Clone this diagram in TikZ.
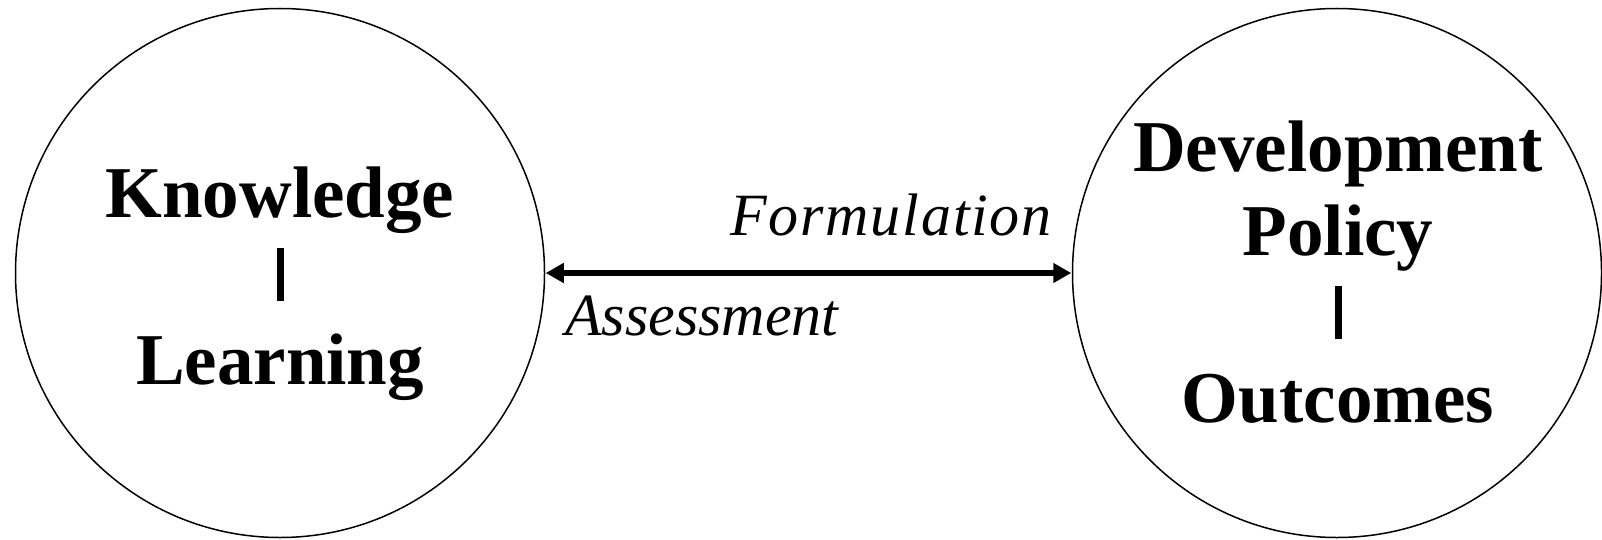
\documentclass[tikz,border=0pt]{standalone}
\usepackage{fontspec}
\setmainfont{Liberation Serif}
\usetikzlibrary{arrows.meta}
\begin{document}
\begin{tikzpicture}[x=1pt,y=-1pt,
  bigcircle/.style={draw, line width=1.5pt, circle, minimum size=529pt, inner sep=0pt},
  bigtext/.style={align=center, font=\bfseries\fontsize{73}{83.5}\selectfont, inner sep=0pt},
  flowlabel/.style={font=\itshape\fontsize{60}{70}\selectfont, inner sep=0pt},
  link/.style={line width=6pt, {Triangle[length=18pt,width=19pt]}-{Triangle[length=18pt,width=19pt]}, shorten <=0.5pt, shorten >=0.5pt}]
\useasboundingbox (0,0) rectangle (1602,540);
\node[bigcircle] (kl) at (280,273) {};
\node[bigcircle] (dp) at (1337,273) {};
\node[bigtext, anchor=base] (kltext) at (280,384) {Knowledge\\\rule{7pt}{53pt}\\Learning};
\node[bigtext, anchor=base] (dptext) at (1338,422) {Development\\Policy\\\rule{7pt}{53pt}\\Outcomes};
\draw[link] (kl.east) -- (dp.west);
\node[flowlabel, anchor=base east] (form) at (1052,235) {\addfontfeature{LetterSpace=3}Formulation};
\node[flowlabel, anchor=base west] (assess) at (565,335) {Assessment};
\end{tikzpicture}
\end{document}
